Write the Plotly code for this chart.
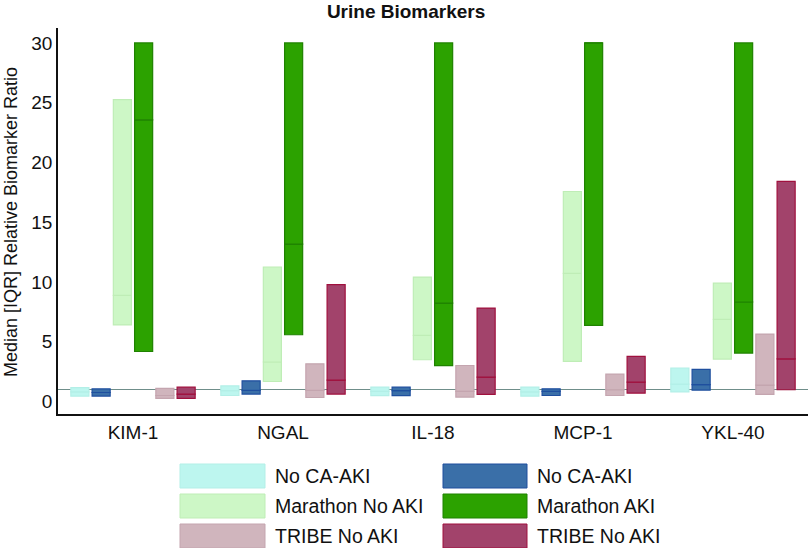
import plotly.graph_objects as go

categories = ["KIM-1", "NGAL", "IL-18", "MCP-1", "YKL-40"]

series_names = ["No CA-AKI", "No CA-AKI", "Marathon No AKI", "Marathon AKI", "TRIBE No AKI", "TRIBE No AKI"]

# Q1, median, Q3 per series (order of categories)
cyan_q1 = [0.45, 0.50, 0.48, 0.45, 0.80]
cyan_med = [0.80, 0.90, 0.85, 0.80, 1.45]
cyan_q3 = [1.15, 1.30, 1.20, 1.20, 2.80]

blue_q1 = [0.45, 0.62, 0.48, 0.50, 0.95]
blue_med = [0.75, 0.92, 0.90, 0.85, 1.40]
blue_q3 = [1.05, 1.73, 1.20, 1.06, 2.68]

lgreen_q1 = [6.40, 1.67, 3.49, 3.35, 3.55]
lgreen_med = [8.87, 3.30, 5.53, 10.71, 6.87]
lgreen_q3 = [25.25, 11.25, 10.41, 17.57, 9.90]

dgreen_q1 = [4.18, 5.58, 2.99, 6.36, 4.05]
dgreen_med = [23.57, 13.17, 8.23, 30.0, 8.32]
dgreen_q3 = [30.0, 30.0, 30.0, 30.0, 30.0]

lpink_q1 = [0.25, 0.33, 0.37, 0.50, 0.59]
lpink_med = [0.50, 0.92, 0.84, 0.98, 1.37]
lpink_q3 = [1.10, 3.15, 3.01, 2.29, 5.64]

red_q1 = [0.25, 0.62, 0.59, 0.70, 0.98]
red_med = [0.62, 1.79, 2.04, 1.62, 3.57]
red_q3 = [1.20, 9.77, 7.81, 3.77, 18.41]

reference_value = 1.0
y_ticks = [0, 5, 10, 15, 20, 25, 30]

series = [
    (cyan_q1, cyan_med, cyan_q3, "#bdf6ef", "#b3efe7"),
    (blue_q1, blue_med, blue_q3, "#3a6fa8", "#1f4f9e"),
    (lgreen_q1, lgreen_med, lgreen_q3, "#cdf7c6", "#bfedb6"),
    (dgreen_q1, dgreen_med, dgreen_q3, "#2ca200", "#1f8200"),
    (lpink_q1, lpink_med, lpink_q3, "#d0b5bd", "#c4a5af"),
    (red_q1, red_med, red_q3, "#a2436b", "#a0103e"),
]

FONT = "Liberation Sans, Arial, Helvetica, sans-serif"

fig = go.Figure()
for i, (q1, med, q3, fill, edge) in enumerate(series):
    lower = [m - a for a, m in zip(q1, med)]
    upper = [b - m for m, b in zip(med, q3)]
    for base, h in ((q1, lower), (med, upper)):
        fig.add_trace(go.Bar(
            x=categories, y=h, base=base, offsetgroup=str(i),
            name=series_names[i], showlegend=False,
            marker=dict(color=fill, line=dict(color=edge, width=1.2)),
        ))

# plot area in pixels: x 58..808, y 28..414
L, R, T, B = 58, 2, 28, 134
W, H = 810, 548
pw, ph = W - L - R, H - T - B

def px(x):
    return (x - L) / pw

def py(y):
    return (H - B - y) / ph

shapes = [dict(type="line", xref="paper", yref="y", x0=0, x1=1,
               y0=reference_value, y1=reference_value,
               line=dict(color="#6f8e8a", width=1.2), layer="below")]
annotations = [dict(xref="paper", yref="paper", x=px(11), y=py(222),
                    text="Median [IQR] Relative Biomarker Ratio", textangle=-90,
                    showarrow=False, xanchor="center", yanchor="middle",
                    font=dict(size=18, color="#111111", family=FONT))]
legend_cols = [(180, 265, 273, [0, 2, 4]), (443, 527, 535, [1, 3, 5])]
row_y = [476, 506, 536]
for x0, x1, tx, idxs in legend_cols:
    for r, idx in enumerate(idxs):
        _, _, _, fill, edge = series[idx]
        yc = row_y[r]
        shapes.append(dict(type="rect", xref="paper", yref="paper",
                           x0=px(x0), x1=px(x1), y0=py(yc - 12), y1=py(yc + 12),
                           fillcolor=fill, line=dict(color=edge, width=1)))
        annotations.append(dict(xref="paper", yref="paper", x=px(tx), y=py(yc),
                                text=series_names[idx], showarrow=False,
                                xanchor="left", yanchor="middle",
                                font=dict(size=19.5, color="#111111", family=FONT)))

fig.update_layout(
    width=W, height=H,
    margin=dict(l=L, r=R, t=T, b=B),
    paper_bgcolor="white", plot_bgcolor="white",
    barmode="group", bargap=0.15, bargroupgap=0.15,
    title=dict(text="<b>Urine Biomarkers</b>", x=px(434), xanchor="center",
               y=1 - 11 / H, yanchor="middle",
               font=dict(size=19, color="#111111", family=FONT)),
    font=dict(family=FONT, color="#111111", size=18),
    shapes=shapes, annotations=annotations,
    xaxis=dict(showline=True, linecolor="#111111", linewidth=1.5,
               ticks="", showgrid=False, zeroline=False, automargin=False,
               tickfont=dict(size=19), range=[-0.5, 4.5]),
    yaxis=dict(showline=True, linecolor="#111111", linewidth=1.5,
               ticks="", showgrid=False, zeroline=False, automargin=False,
               range=[-1.05, 31.25], tickvals=y_ticks,
               tickfont=dict(size=19)),
)

fig.write_html("out.html", config={"displayModeBar": False},
               post_script="document.body.style.margin='0';")
